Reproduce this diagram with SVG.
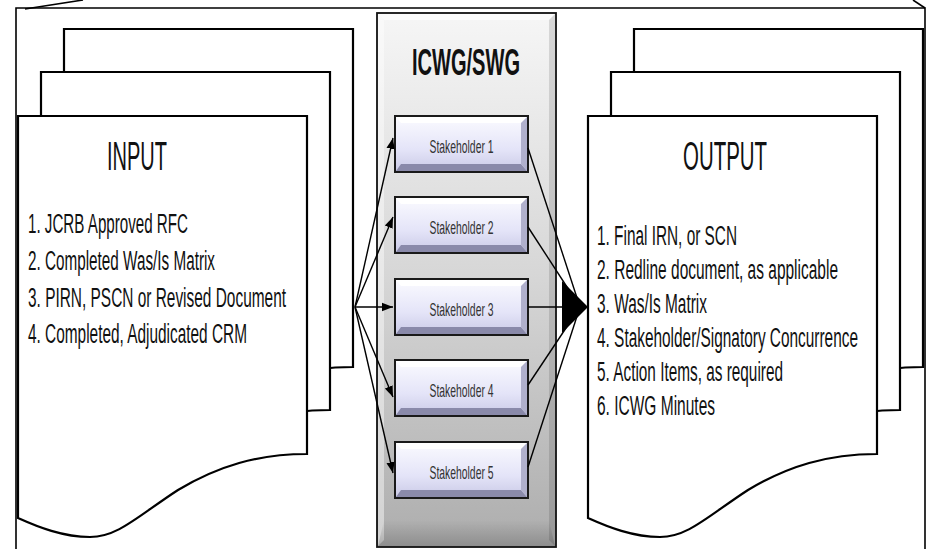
<svg xmlns="http://www.w3.org/2000/svg" width="928" height="549" viewBox="0 0 928 549">
<style>
.doc{fill:#fff;stroke:#000;stroke-width:2.2;stroke-linejoin:miter}
.frame{fill:none;stroke:#000;stroke-width:1.6}
.t{font-family:"Liberation Sans Narrow","Liberation Sans",Arial,sans-serif;fill:#111}
.big{font-size:40px}
.li{font-size:27px}
.sh{font-size:19px;fill:#333;text-anchor:middle}
.title{font-size:37px;font-weight:bold}
.conn{fill:none;stroke:#000;stroke-width:1.4}
.sbox{fill:url(#sgrad);stroke:#1a1a1a;stroke-width:2}
</style>
<defs>
<path id="docshape" d="M0,0 H289 V338 C240,338 200,350 160,374 C120,400 100,421 72,421 C45,421 20,411 0,402 Z"/>
<linearGradient id="colgrad" x1="0" y1="0" x2="0" y2="1">
<stop offset="0" stop-color="#f6f6f6"/>
<stop offset="0.5" stop-color="#d6d6d6"/>
<stop offset="1" stop-color="#adadad"/>
</linearGradient>
<linearGradient id="botbev" x1="0" y1="0" x2="0" y2="1">
<stop offset="0" stop-color="#000" stop-opacity="0"/>
<stop offset="1" stop-color="#000" stop-opacity="0.18"/>
</linearGradient>
<linearGradient id="sgrad" x1="0" y1="0" x2="0" y2="1">
<stop offset="0" stop-color="#fbfbff"/>
<stop offset="0.6" stop-color="#e4e4f8"/>
<stop offset="1" stop-color="#c9c9e6"/>
</linearGradient>
<marker id="ah" viewBox="0 0 10 10" refX="10" refY="5" markerWidth="11" markerHeight="11" orient="auto" markerUnits="userSpaceOnUse">
<path d="M0,1.2 L10,5 L0,8.8 Z" fill="#000"/>
</marker>
<marker id="bigah" viewBox="0 0 26 52" refX="26" refY="26" markerWidth="26" markerHeight="52" orient="auto" markerUnits="userSpaceOnUse">
<path d="M0,0 L26,26 L0,52 Z" fill="#000"/>
</marker>
</defs>

<g id="frame">
<path class="frame" d="M16,549 V8 H925 V549"/>
<path class="frame" d="M25,9 L83,0"/>
<path class="frame" d="M913,0 L925,8"/>
</g>

<g id="input">
<use href="#docshape" class="doc" transform="translate(64,29)"/>
<use href="#docshape" class="doc" transform="translate(41,72)"/>
<use href="#docshape" class="doc" transform="translate(18,116)"/>
<text class="t big" x="107" y="170" textLength="60" lengthAdjust="spacingAndGlyphs">INPUT</text>
<text class="t li" x="28" y="233" textLength="160" lengthAdjust="spacingAndGlyphs">1. JCRB Approved RFC</text>
<text class="t li" x="28" y="270" textLength="187" lengthAdjust="spacingAndGlyphs">2. Completed Was/Is Matrix</text>
<text class="t li" x="28" y="307" textLength="258" lengthAdjust="spacingAndGlyphs">3. PIRN, PSCN or Revised Document</text>
<text class="t li" x="28" y="343" textLength="219" lengthAdjust="spacingAndGlyphs">4. Completed, Adjudicated CRM</text>
</g>

<g id="output">
<use href="#docshape" class="doc" transform="translate(634,29)"/>
<use href="#docshape" class="doc" transform="translate(611,72)"/>
<use href="#docshape" class="doc" transform="translate(588,116)"/>
<text class="t big" x="683" y="170" textLength="84" lengthAdjust="spacingAndGlyphs">OUTPUT</text>
<text class="t li" x="597" y="245" textLength="140" lengthAdjust="spacingAndGlyphs">1. Final IRN, or SCN</text>
<text class="t li" x="597" y="279" textLength="241" lengthAdjust="spacingAndGlyphs">2. Redline document, as applicable</text>
<text class="t li" x="597" y="313" textLength="110" lengthAdjust="spacingAndGlyphs">3. Was/Is Matrix</text>
<text class="t li" x="597" y="347" textLength="261" lengthAdjust="spacingAndGlyphs">4. Stakeholder/Signatory Concurrence</text>
<text class="t li" x="597" y="381" textLength="186" lengthAdjust="spacingAndGlyphs">5. Action Items, as required</text>
<text class="t li" x="597" y="415" textLength="118" lengthAdjust="spacingAndGlyphs">6. ICWG Minutes</text>
</g>

<g id="icwg">
<rect x="377" y="13" width="179" height="534" fill="url(#colgrad)" stroke="#111" stroke-width="1.8"/>
<polygon points="378,14 384,20 384,540 378,546" fill="#fff" opacity="0.45"/>
<polygon points="378,14 555,14 549,20 384,20" fill="#fff" opacity="0.6"/>
<polygon points="555,14 555,546 549,540 549,20" fill="#000" opacity="0.12"/>
<polygon points="378,546 555,546 549,520 384,520" fill="url(#botbev)"/>
<text class="t title" x="412" y="75" textLength="108" lengthAdjust="spacingAndGlyphs">ICWG/SWG</text>
</g>

<g id="stakeholder1">
<rect class="sbox" x="395" y="116" width="133" height="56"/>
<polygon points="396,117 527,117 521,123 401,123" fill="#fff"/>
<polygon points="396,171 527,171 521,164 401,164" fill="#8a8aaa"/>
<polygon points="527,117 527,171 521,164 521,123" fill="#b0b0cc"/>
<text class="t sh" x="461.5" y="153" textLength="64" lengthAdjust="spacingAndGlyphs">Stakeholder 1</text>
</g>
<g id="stakeholder2">
<rect class="sbox" x="395" y="197" width="133" height="56"/>
<polygon points="396,198 527,198 521,204 401,204" fill="#fff"/>
<polygon points="396,252 527,252 521,245 401,245" fill="#8a8aaa"/>
<polygon points="527,198 527,252 521,245 521,204" fill="#b0b0cc"/>
<text class="t sh" x="461.5" y="234" textLength="64" lengthAdjust="spacingAndGlyphs">Stakeholder 2</text>
</g>
<g id="stakeholder3">
<rect class="sbox" x="395" y="279" width="133" height="56"/>
<polygon points="396,280 527,280 521,286 401,286" fill="#fff"/>
<polygon points="396,334 527,334 521,327 401,327" fill="#8a8aaa"/>
<polygon points="527,280 527,334 521,327 521,286" fill="#b0b0cc"/>
<text class="t sh" x="461.5" y="316" textLength="64" lengthAdjust="spacingAndGlyphs">Stakeholder 3</text>
</g>
<g id="stakeholder4">
<rect class="sbox" x="395" y="360" width="133" height="56"/>
<polygon points="396,361 527,361 521,367 401,367" fill="#fff"/>
<polygon points="396,415 527,415 521,408 401,408" fill="#8a8aaa"/>
<polygon points="527,361 527,415 521,408 521,367" fill="#b0b0cc"/>
<text class="t sh" x="461.5" y="397" textLength="64" lengthAdjust="spacingAndGlyphs">Stakeholder 4</text>
</g>
<g id="stakeholder5">
<rect class="sbox" x="395" y="442" width="133" height="56"/>
<polygon points="396,443 527,443 521,449 401,449" fill="#fff"/>
<polygon points="396,497 527,497 521,490 401,490" fill="#8a8aaa"/>
<polygon points="527,443 527,497 521,490 521,449" fill="#b0b0cc"/>
<text class="t sh" x="461.5" y="479" textLength="64" lengthAdjust="spacingAndGlyphs">Stakeholder 5</text>
</g>

<g id="connectors">
<line class="conn" x1="355" y1="307" x2="393" y2="138" marker-end="url(#ah)"/>
<line class="conn" x1="355" y1="307" x2="393" y2="217" marker-end="url(#ah)"/>
<line class="conn" x1="355" y1="307" x2="393" y2="307" marker-end="url(#ah)" stroke-width="1.8"/>
<line class="conn" x1="355" y1="307" x2="393" y2="397" marker-end="url(#ah)"/>
<line class="conn" x1="355" y1="307" x2="393" y2="473" marker-end="url(#ah)"/>
<line class="conn" x1="528" y1="148" x2="580" y2="307"/>
<line class="conn" x1="528" y1="227" x2="580" y2="307"/>
<line class="conn" x1="528" y1="385" x2="580" y2="307"/>
<line class="conn" x1="528" y1="467" x2="580" y2="307"/>
<line class="conn" x1="528" y1="307" x2="588" y2="307" marker-end="url(#bigah)"/>
</g>
</svg>
